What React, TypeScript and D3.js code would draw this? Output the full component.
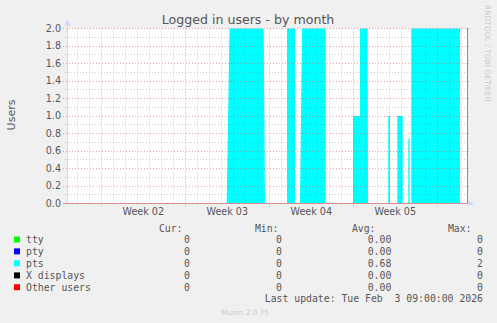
import React from "react";
import * as d3 from "d3";

// ---- data ----
const title = "Logged in users - by month";
const yLabel = "Users";
const yTicks = [0, 0.2, 0.4, 0.6, 0.8, 1.0, 1.2, 1.4, 1.6, 1.8, 2.0];
const domainStart = "2026-01-01T03:24";
const domainEnd = "2026-02-03T11:24";
const dataEnd = "2026-02-03T11:04";

const ptsTimes = [
  "2026-01-01T03:24", "2026-01-14T10:48", "2026-01-14T16:24", "2026-01-17T12:48", "2026-01-17T15:24",
  "2026-01-19T11:24", "2026-01-19T11:24", "2026-01-20T03:24", "2026-01-20T03:24",
  "2026-01-20T13:24", "2026-01-20T17:24", "2026-01-22T16:48", "2026-01-22T16:48",
  "2026-01-24T23:24", "2026-01-24T23:24", "2026-01-25T13:24", "2026-01-25T13:24", "2026-01-26T04:48", "2026-01-26T05:30",
  "2026-01-27T22:00", "2026-01-27T22:00", "2026-01-28T01:24", "2026-01-28T01:24",
  "2026-01-28T16:00", "2026-01-28T16:00", "2026-01-29T02:48", "2026-01-29T02:48",
  "2026-01-29T14:00", "2026-01-29T14:00", "2026-01-29T16:48", "2026-01-29T16:48",
  "2026-01-29T20:00", "2026-01-29T20:00", "2026-02-02T21:24", "2026-02-02T21:24",
  "2026-02-03T11:04",
];
const ptsValues = [
  0, 0, 2, 2, 0,
  0, 2, 2, 0,
  0, 2, 2, 0,
  0, 1, 1, 2, 2, 0,
  0, 1, 1, 0,
  0, 1, 1, 0,
  0, 0.74, 0.74, 0,
  0, 2, 2, 0,
  0,
];

const seriesNames = ["tty", "pty", "pts", "X displays", "Other users"];
const seriesColors = ["#00FF00", "#0000FF", "#00FFFF", "#000000", "#FF0000"];
const curValues = ["0", "0", "0", "0", "0"];
const minValues = ["0", "0", "0", "0", "0"];
const avgValues = ["0.00", "0.00", "0.68", "0.00", "0.00"];
const maxValues = ["0", "0", "2", "0", "0"];
const lastUpdate = "Last update: Tue Feb  3 09:00:00 2026";
const footer = "Munin 2.0.75";
const watermark = "RRDTOOL / TOBI OETIKER";

// ---- layout ----
const W = 497, H = 323;
const L = 67, R = 467, T = 28.5, B = 203.5;
const FONT = "#555555";
const SANS = "'DejaVu Sans', sans-serif";
const MONO = "'DejaVu Sans Mono', monospace";

export default function App() {
  const parse = d3.utcParse("%Y-%m-%dT%H:%M");
  const t0 = parse(domainStart)!;
  const t1 = parse(domainEnd)!;
  const x = d3.scaleUtc().domain([t0, t1]).range([L, R]);
  const y = d3.scaleLinear().domain([0, 2]).range([B, T]);

  const pts = ptsTimes.map((s, i) => ({ t: parse(s)!, v: ptsValues[i] }));
  const area = d3
    .area<{ t: Date; v: number }>()
    .x((d) => x(d.t))
    .y0(y(0))
    .y1((d) => y(d.v))
    .curve(d3.curveLinear);

  const days = d3.utcDay.range(d3.utcDay.ceil(t0), t1);
  const weeks = d3.utcSunday.range(d3.utcSunday.ceil(t0), t1);
  const weekLabels = d3.utcSunday
    .range(d3.utcSunday.floor(t0), t1)
    .map((w) => new Date(w.getTime() + 3.5 * 86400000))
    .filter((m) => m > t0 && m < t1);
  const fmtWeek = d3.utcFormat("Week %V");
  const minorY = d3.range(0, 21).map((i) => i / 10);

  const cx = (v: number) => Math.round(v) + 0.5;
  const cy = (v: number) => Math.round(y(v) - 0.5) + 0.5;

  const rowY = [239.5, 251.4, 263.3, 275.4, 287.2];

  return (
    <svg
      width={W}
      height={H}
      style={{ position: "absolute", left: 0, top: 0 }}
      xmlns="http://www.w3.org/2000/svg"
    >
      <rect x={0} y={0} width={W} height={H} fill="#F0F0F0" />
      <rect x={L} y={T} width={R - L} height={B - T} fill="#FFFFFF" />

      {/* data */}
      <path d={area(pts) || ""} fill="#00FFFF" />

      {/* minor grid */}
      {minorY.filter((v) => Math.round(v * 10) % 2 !== 0).map((v) => (
        <line key={"hy" + v} x1={L - 2} x2={R + 2} y1={cy(v)} y2={cy(v)}
          stroke="rgba(140,140,140,0.45)" strokeDasharray="1,2" />
      ))}
      {days.filter((d) => d.getUTCDay() !== 0).map((d) => (
        <line key={"dx" + d.getTime()} x1={cx(x(d))} x2={cx(x(d))} y1={T} y2={B + 2}
          stroke="rgba(140,140,140,0.45)" strokeDasharray="1,2" />
      ))}
      {/* major grid */}
      {yTicks.filter((v) => v > 0).map((v) => (
        <line key={"my" + v} x1={L - 4} x2={R + 3} y1={cy(v)} y2={cy(v)}
          stroke="rgba(220,90,90,0.55)" strokeDasharray="1,2" />
      ))}
      {weeks.map((d) => (
        <line key={"wx" + d.getTime()} x1={cx(x(d))} x2={cx(x(d))} y1={T} y2={B + 3}
          stroke="rgba(220,90,90,0.55)" strokeDasharray="1,2" />
      ))}

      {/* axes */}
      <line x1={L + 0.5} x2={L + 0.5} y1={B} y2={T - 6} stroke="#CFD6F8" />
      <path d={`M${L + 0.5},${T - 9} L${L - 2.5},${T - 3} L${L + 3.5},${T - 3} Z`} fill="#CFD6F8" />
      <line x1={L - 4} x2={R + 2} y1={B} y2={B} stroke="#CFD6F8" />
      <line x1={L - 4} x2={R} y1={B} y2={B} stroke="#E08A8A" />
      <path d={`M${R + 7},${B} L${R + 1},${B - 3} L${R + 1},${B + 3} Z`} fill="#CFD6F8" />
      <line x1={cx(x(parse(dataEnd)!))} x2={cx(x(parse(dataEnd)!))} y1={T - 0.5} y2={B}
        stroke="#8C8C8C" />

      {/* y tick labels */}
      {yTicks.map((v) => (
        <text key={"yl" + v} x={61} y={y(v)} dy="0.36em" textAnchor="end"
          fontFamily={SANS} fontSize={9.6} fill={FONT}>
          {v.toFixed(1)}
        </text>
      ))}
      {/* x labels */}
      {weekLabels.map((m) => (
        <text key={"xl" + m.getTime()} x={x(m)} y={215.2} textAnchor="middle"
          fontFamily={SANS} fontSize={9.6} fill={FONT}>
          {fmtWeek(m)}
        </text>
      ))}

      {/* title and labels */}
      <text x={248} y={24} textAnchor="middle" fontFamily={SANS} fontSize={12.6} fill={FONT}>
        {title}
      </text>
      <text transform="translate(15,115) rotate(-90)" textAnchor="middle"
        fontFamily={SANS} fontSize={11} fill={FONT}>
        {yLabel}
      </text>
      <text transform="translate(485,5) rotate(90)" textAnchor="start"
        fontFamily={SANS} fontSize={7.5} fill="#CCCCCC">
        {watermark}
      </text>

      {/* legend */}
      <g fontFamily={MONO} fontSize={9.8} fill={FONT} style={{ whiteSpace: "pre" }}>
        <text x={182.5} y={228} dy="0.36em" textAnchor="end">Cur:</text>
        <text x={278.5} y={228} dy="0.36em" textAnchor="end">Min:</text>
        <text x={375.5} y={228} dy="0.36em" textAnchor="end">Avg:</text>
        <text x={471.5} y={228} dy="0.36em" textAnchor="end">Max:</text>
        {seriesNames.map((n, i) => (
          <g key={n}>
            <rect x={14} y={rowY[i] - 3} width={6} height={6} fill={seriesColors[i]} />
            <text x={26} y={rowY[i]} dy="0.36em">{n}</text>
            <text x={189.8} y={rowY[i]} dy="0.36em" textAnchor="end">{curValues[i]}</text>
            <text x={282} y={rowY[i]} dy="0.36em" textAnchor="end">{minValues[i]}</text>
            <text x={391.3} y={rowY[i]} dy="0.36em" textAnchor="end">{avgValues[i]}</text>
            <text x={483} y={rowY[i]} dy="0.36em" textAnchor="end">{maxValues[i]}</text>
          </g>
        ))}
        <text x={483} y={298.3} dy="0.36em" textAnchor="end" xmlSpace="preserve">{lastUpdate}</text>
      </g>
      <text x={245} y={314.5} textAnchor="middle" fontFamily={SANS} fontSize={7.3} fill="#CCCCCC">
        {footer}
      </text>
    </svg>
  );
}
